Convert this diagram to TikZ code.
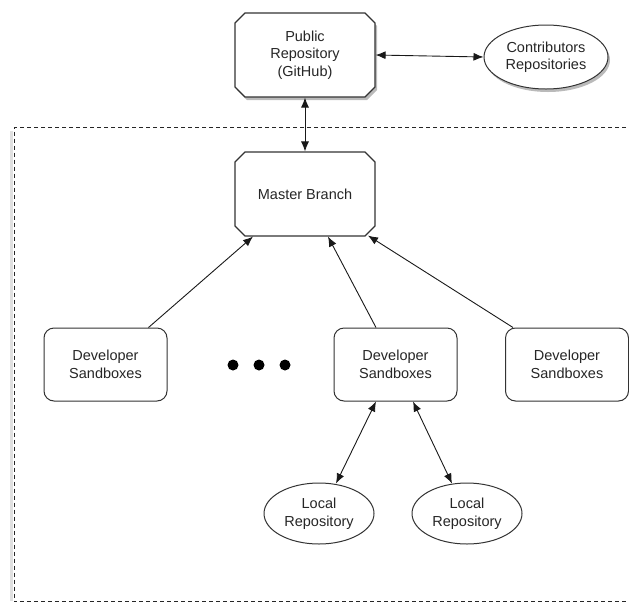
\documentclass[tikz,border=0pt]{standalone}
\usepackage{fontspec}
\setmainfont{Liberation Sans}
\usetikzlibrary{shapes.misc,shapes.geometric,shadows,arrows.meta}
\begin{document}
\begin{tikzpicture}[x=1pt,y=-1pt,
  font=\fontsize{14.5}{17.5}\selectfont,
  every node/.style={align=center, text=black!85},
  chambox/.style={chamfered rectangle, chamfered rectangle xsep=5pt, chamfered rectangle ysep=5pt,
    draw=black!80, line width=1.1pt, fill=white, minimum width=140pt, minimum height=84pt, inner sep=0pt},
  devbox/.style={rectangle, rounded corners=10pt, draw=black!80, line width=1pt, fill=white,
    minimum width=123pt, minimum height=73pt, inner sep=0pt},
  repo/.style={ellipse, draw=black!80, line width=1pt, fill=white, minimum width=110pt, minimum height=61pt, inner sep=0pt},
  shad/.style={drop shadow={shadow xshift=2pt, shadow yshift=-3pt, opacity=0.45, fill=black!60}},
  conn/.style={line width=0.9pt, draw=black!90, >={Latex[length=10pt,width=8pt]}},
  dot/.style={circle, fill=black, minimum size=11pt, inner sep=0pt},
  region/.style={draw=black!85, line width=1pt, dash pattern=on 4pt off 3pt}
]
\useasboundingbox (0,0) rectangle (629,603);
% region shadow and dashed region
\draw[black!12, line width=3pt] (11,131) -- (11,601);
\draw[region] (640,127.5) -| (14,601.5) -- (640,601.5);

\node[chambox, shad] (pub) at (305,55) {Public\\Repository\\(GitHub)};
\node[repo, shad, minimum width=124pt, minimum height=64pt] (contrib) at (546,57) {Contributors\\Repositories};
\node[chambox, minimum height=84pt] (master) at (305,194) {Master Branch};

\node[devbox] (dev1) at (105.5,364.5) {Developer\\Sandboxes};
\node[devbox] (dev2) at (395.5,364.5) {Developer\\Sandboxes};
\node[devbox] (dev3) at (567,364.5) {Developer\\Sandboxes};

\node[dot] (d1) at (233,365) {};
\node[dot] (d2) at (259,365) {};
\node[dot] (d3) at (285,365) {};

\node[repo] (loc1) at (319,513.5) {Local\\Repository};
\node[repo] (loc2) at (467,513.5) {Local\\Repository};

\draw[conn, <->] (pub.east) -- (contrib.west);
\draw[conn, <->] (pub.south) -- (master.north);
\draw[conn, ->] ([xshift=43pt]dev1.north) -- ([xshift=-52pt]master.south);
\draw[conn, ->] ([xshift=-19.5pt]dev2.north) -- ([xshift=23pt]master.south);
\draw[conn, ->] ([xshift=-54pt]dev3.north) -- ([xshift=63pt,yshift=1pt]master.south);
\draw[conn, <->] ([xshift=-19.5pt]dev2.south) -- ([xshift=17pt,yshift=-1pt]loc1.north);
\draw[conn, <->] ([xshift=17.5pt]dev2.south) -- ([xshift=-15pt,yshift=-1pt]loc2.north);
\end{tikzpicture}
\end{document}
